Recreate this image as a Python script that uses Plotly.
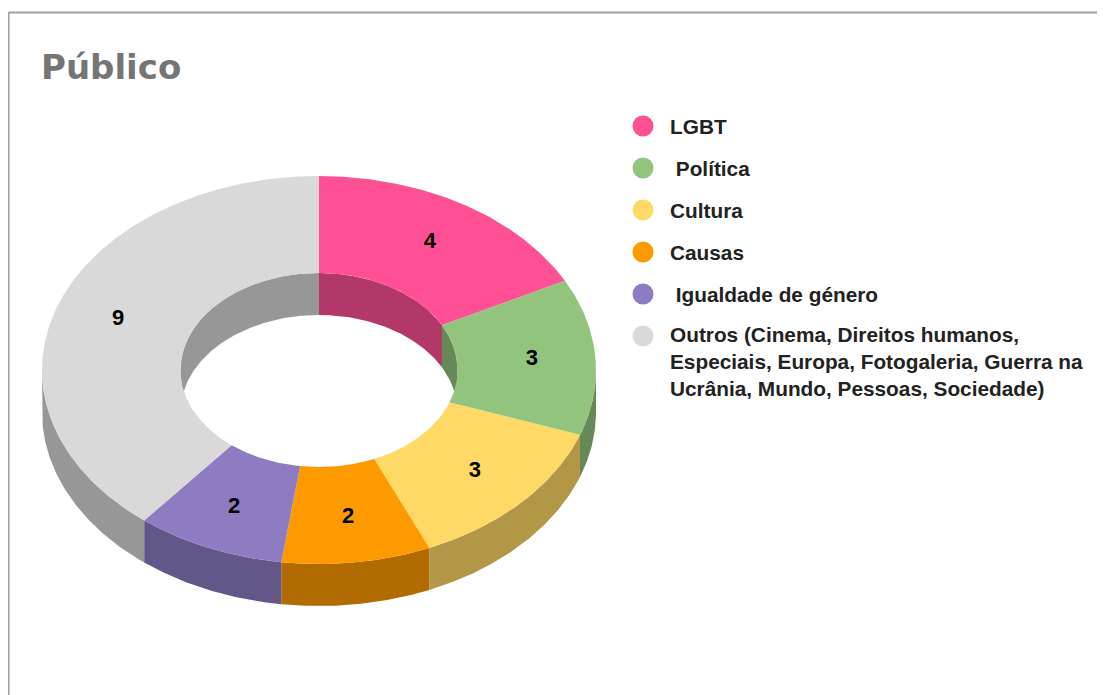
import numpy as np
import plotly.graph_objects as go

# ---- data ----
categories = ["LGBT", " Política", "Cultura", "Causas", " Igualdade de género",
              "Outros (Cinema, Direitos humanos,<br>Especiais, Europa, Fotogaleria, Guerra na<br>Ucrânia, Mundo, Pessoas, Sociedade)"]
values = [4, 3, 3, 2, 2, 9]
colors = ["#FF5096", "#93C47D", "#FFD966", "#FF9900", "#8E7CC3", "#D9D9D9"]
title_text = "Público"

# ---- layout / style constants (screen pixels; page body adds an 8px offset) ----
OFF = 8
W, H = 1105 - OFF, 695 - OFF
CX, CY = 319 - OFF, 370 - OFF   # centre of the top face
RX, RY = 277, 194               # outer radii of the top face
HOLE = 0.5                      # inner radius fraction
DEPTH = 42                      # thickness of the 3D ring
LABEL_R = 0.77                  # label radius fraction
SHADE = 0.7                     # darkening for side walls

LEG_X, LEG_Y0, LEG_DY = 643 - OFF, 126 - OFF, 42
LEG_TEXT_X = 668 - OFF
LINE_H = 25
FONT = "Liberation Sans, Arial, sans-serif"


def darken(hex_color, f=SHADE):
    h = hex_color.lstrip("#")
    r, g, b = (int(h[i:i + 2], 16) for i in (0, 2, 4))
    return "#%02X%02X%02X" % (int(r * f), int(g * f), int(b * f))


def pt(t_deg, rf=1.0, dy=0.0):
    t = np.radians(t_deg)
    return CX + rf * RX * np.sin(t), CY - rf * RY * np.cos(t) + dy


def arc(a0, a1, rf=1.0, dy=0.0):
    n = max(int(abs(a1 - a0) * 2), 2)
    ts = np.linspace(a0, a1, n)
    xs, ys = pt(ts, rf, dy)
    return list(xs), list(ys)


total = float(sum(values))
bounds = np.concatenate([[0], np.cumsum(values)]) / total * 360.0

fig = go.Figure()


def poly(xs, ys, color):
    fig.add_trace(go.Scatter(x=xs + [xs[0]], y=ys + [ys[0]], mode="lines",
                             fill="toself", fillcolor=color,
                             line=dict(width=0, color=color),
                             hoverinfo="skip", showlegend=False))


# 1) outer side walls (front half: 90..270 deg)
for i, c in enumerate(colors):
    lo, hi = max(bounds[i], 90), min(bounds[i + 1], 270)
    if hi > lo:
        tx, ty = arc(lo, hi, 1.0, 0)
        bx, by = arc(hi, lo, 1.0, DEPTH)
        poly(tx + bx, ty + by, darken(c))

# 2) inner walls (back half: 270..450 deg)
for i, c in enumerate(colors):
    a0, a1 = bounds[i], bounds[i + 1]
    for seg_lo, seg_hi in ((0, 90), (270, 360)):
        lo, hi = max(a0, seg_lo), min(a1, seg_hi)
        if hi > lo:
            tx, ty = arc(lo, hi, HOLE, 0)
            bx, by = arc(hi, lo, HOLE, DEPTH)
            poly(tx + bx, ty + by, darken(c))

# 3) top faces
for i, c in enumerate(colors):
    a0, a1 = bounds[i], bounds[i + 1]
    ox, oy = arc(a0, a1, 1.0)
    ix, iy = arc(a1, a0, HOLE)
    poly(ox + ix, oy + iy, c)

# 4) value labels
mids = (bounds[:-1] + bounds[1:]) / 2
lx, ly = pt(mids, LABEL_R)
fig.add_trace(go.Scatter(x=lx, y=ly, mode="text", text=["<b>%d</b>" % v for v in values],
                         textposition="middle center",
                         textfont=dict(family=FONT, size=22, color="#000000"),
                         hoverinfo="skip", showlegend=False))

# 5) legend (markers + text)
rows = np.arange(len(categories))
fig.add_trace(go.Scatter(x=[LEG_X] * len(categories), y=LEG_Y0 + rows * LEG_DY,
                         mode="markers",
                         marker=dict(size=21, color=colors, line=dict(width=0)),
                         hoverinfo="skip", showlegend=False))
for i, name in enumerate(categories):
    label = name
    if label.startswith(" "):
        label = "\u00a0" + label[1:]
    nlines = label.count("<br>") + 1
    fig.add_annotation(x=LEG_TEXT_X, y=LEG_Y0 + i * LEG_DY + (nlines - 1) * LINE_H / 2,
                       xref="x", yref="y", text="<b>%s</b>" % label, showarrow=False,
                       xanchor="left", yanchor="middle", align="left",
                       font=dict(family=FONT, size=20.8, color="#222222"))

# frame lines
fig.add_shape(type="line", xref="paper", yref="paper", x0=0.5 / W, x1=1.0,
              y0=1 - 4.5 / H, y1=1 - 4.5 / H, line=dict(color="#9E9E9E", width=2))
fig.add_shape(type="line", xref="paper", yref="paper", x0=0.5 / W, x1=0.5 / W,
              y0=0, y1=1 - 4.5 / H, line=dict(color="#9E9E9E", width=2))

fig.update_layout(
    width=W, height=H, autosize=False,
    margin=dict(l=0, r=0, t=0, b=0),
    paper_bgcolor="white", plot_bgcolor="white",
    title=dict(text="<b>%s</b>" % title_text, x=(41 - OFF) / W, xanchor="left", xref="paper",
               y=1 - (67 - OFF) / H, yref="container", yanchor="middle",
               font=dict(family="DejaVu Sans, Verdana, sans-serif", size=34, color="#757575")),
    xaxis=dict(range=[0, W], visible=False, fixedrange=True),
    yaxis=dict(range=[H, 0], visible=False, fixedrange=True),
    showlegend=False,
)

fig.write_html("out.html", config={"displayModeBar": False})
